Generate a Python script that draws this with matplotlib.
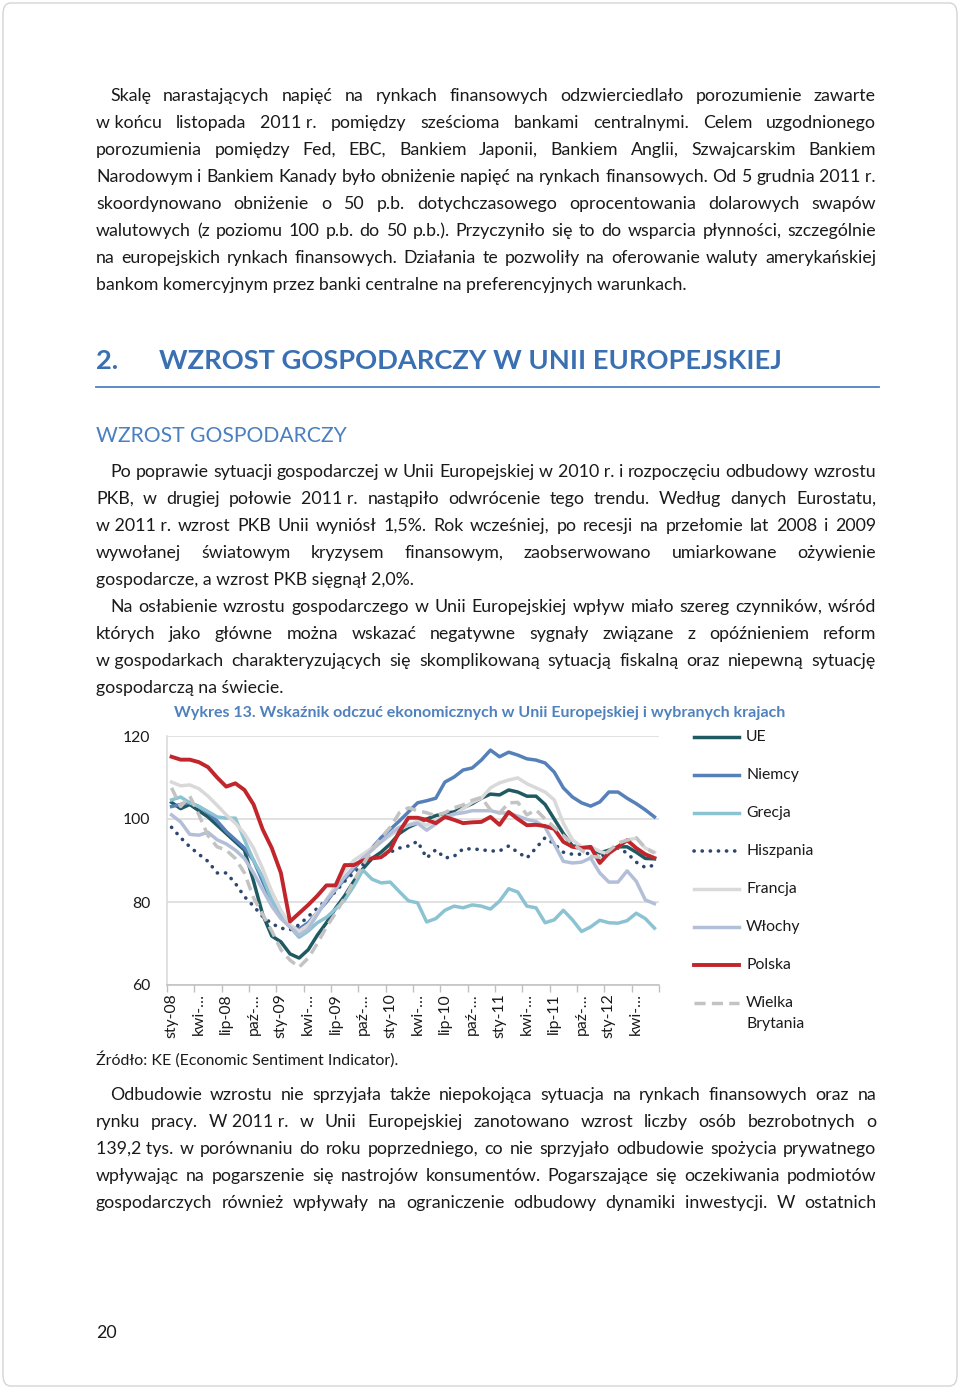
import matplotlib
matplotlib.use("Agg")
import matplotlib.pyplot as plt
from matplotlib.lines import Line2D
from matplotlib.patches import FancyBboxPatch
import numpy as np

# ---------------- data ----------------
tick_labels = ['sty-08', 'kwi-…', 'lip-08', 'paź-…', 'sty-09', 'kwi-…', 'lip-09', 'paź-…',
               'sty-10', 'kwi-…', 'lip-10', 'paź-…', 'sty-11', 'kwi-…', 'lip-11', 'paź-…',
               'sty-12', 'kwi-…']

ue = [104, 102.5, 103.5, 102, 100.5, 98.5, 96.5, 94.5, 92.5, 85, 77, 71.8, 70.4, 67.5, 66.5,
      68.5, 72, 75, 78.5, 81.5, 85, 88, 90.5, 92, 94, 96.5, 98, 99, 100, 100.8, 101.4, 101.7,
      102.7, 103.7, 105, 106, 105.8, 107, 106.5, 105.5, 105.5, 103.5, 100, 96.5, 93.5, 93.3,
      93, 91.8, 92.5, 93.3, 93.3, 92, 90.5, 90.4]
niemcy = [103, 103.5, 104, 103, 101.5, 99.5, 97, 95, 93, 90, 85, 80, 76.5, 74, 73.5, 75,
          77.5, 80, 83, 85.5, 88, 90.5, 93, 95.5, 97.5, 99.5, 101.7, 103.9, 104.4, 105, 108.9,
          110.1, 111.8, 112.3, 114.2, 116.6, 115, 116.1, 115.4, 114.5, 114.2, 113.5, 111.3,
          107.5, 105.3, 103.9, 103.1, 104.1, 106.5, 106.5, 105, 103.7, 102.2, 100.5]
grecja = [104.6, 105.3, 103.9, 103, 101.8, 100.5, 100.2, 100.2, 95, 90, 86, 80.5, 77, 74,
          71.5, 73, 75, 76.3, 78.3, 80.5, 83.8, 87.7, 85.5, 84.6, 84.8, 82.5, 80.3, 79.8, 75.2,
          76, 78, 79, 78.6, 79.3, 79, 78.3, 80.2, 83.2, 82.4, 79, 78.6, 75, 75.7, 78, 75.7,
          72.9, 74, 75.6, 75, 74.9, 75.5, 77.3, 76, 73.7]
hiszpania = [98, 95.5, 93.3, 91.5, 89.8, 87, 87, 84.5, 81.3, 79, 76.5, 74.8, 73.7, 73.3,
             74.5, 76.5, 78.5, 80.5, 82.5, 85, 87, 89, 90.3, 91, 92, 93, 93.5, 94.6, 90.6,
             92.6, 90.6, 91, 92.8, 92.8, 92.6, 92.3, 92.3, 93.5, 92, 90.6, 93, 95.5, 94, 92,
             91.5, 91.5, 91.8, 91, 91.8, 93, 91.8, 89.6, 88.3, 88.9]
francja = [108.9, 108, 108.2, 107.3, 105.5, 103.3, 101, 99, 96.5, 93, 88, 82.5, 78, 74.5,
           73, 74.5, 77.5, 80.5, 84, 87.5, 90, 91.5, 93, 94.5, 96, 97.5, 98.5, 99.5, 98.5,
           99.8, 100.5, 101, 102.5, 104, 105, 107.5, 108.7, 109.4, 109.9, 108.5, 107.5, 106.5,
           104.6, 99, 95, 93.3, 93.3, 92.2, 91.5, 93.3, 94.9, 95.4, 93, 92]
wlochy = [101, 99.3, 96.3, 96.1, 96.8, 95, 94, 92.5, 90.5, 87, 83, 79, 76, 74, 72, 73.5, 77,
          80.5, 83, 86, 88.5, 90.5, 92.5, 94.5, 96.5, 98, 98.5, 99, 97.3, 98.8, 100.5, 101.2,
          101.5, 102, 102, 102, 101.5, 101.4, 100.7, 99.9, 99.4, 98, 94, 89.8, 89.4, 89.6,
          90.6, 87, 84.8, 84.8, 87.5, 85, 80.5, 79.6]
polska = [115, 114.3, 114.3, 113.7, 112.5, 110, 107.8, 108.6, 107, 103.5, 97.5, 93, 87,
          75.3, 77.3, 79.3, 81.5, 84, 84, 88.9, 88.9, 90, 90.5, 90.8, 92.5, 97, 100.3, 100.3,
          99.8, 99, 100.5, 99.8, 99, 99.2, 99.3, 100.5, 98.6, 101.7, 100, 98.5, 98.6, 98.3,
          97.6, 94.5, 93.3, 93, 93.3, 89.4, 91.8, 93.3, 94.9, 93, 91.5, 90.6]
wielka_brytania = [107.5, 103, 105.5, 101, 96, 93.3, 92.5, 90.5, 87, 81, 77, 73, 68.5, 66,
                   64.3, 66.5, 70, 74, 77.3, 81, 85, 89, 92.5, 95.5, 98, 101.5, 102.7, 102,
                   101.5, 100.8, 101.5, 102.7, 103.4, 104.5, 105.2, 102.2, 101.4, 103.9, 104,
                   101, 102.2, 100, 98, 96, 94, 92.5, 91, 90.8, 92.3, 94.2, 94.9, 95.5, 93, 91.8]

series_names = ['UE', 'Niemcy', 'Grecja', 'Hiszpania', 'Francja', 'Włochy', 'Polska',
                'Wielka\nBrytania']

# ---------------- figure ----------------
W, H = 960, 1389
fig = plt.figure(figsize=(W / 100, H / 100), dpi=100)
FONT = ['Lato', 'DejaVu Sans']
plt.rcParams['font.family'] = FONT


def fx(x):
    return x / W


def fy(y):
    return 1 - y / H


# page border
fig.add_artist(FancyBboxPatch((fx(3), fy(1386)), fx(954), (1383) / H,
                              boxstyle="round,pad=0,rounding_size=0.008",
                              transform=fig.transFigure, fill=False,
                              edgecolor='#d4d4d4', linewidth=1.0))

renderer = fig.canvas.get_renderer()
BODY = 12.8
TXT = '#1a1a1a'


def line_text(x0, y, s, x1=None, size=BODY, **kw):
    """Draw a line; if x1 is given, justify tokens over [x0, x1]."""
    if x1 is None:
        fig.text(fx(x0), fy(y), s, fontsize=size, color=TXT, va='center', ha='left', **kw)
        return
    tokens = [t.replace('~', ' ') for t in s.split(' ')]
    arts, widths = [], []
    for t in tokens:
        a = fig.text(0, fy(y), t, fontsize=size, color=TXT, va='center', ha='left', **kw)
        arts.append(a)
        widths.append(a.get_window_extent(renderer).width)
    gap = (x1 - x0 - sum(widths)) / max(len(tokens) - 1, 1)
    x = x0
    for a, w in zip(arts, widths):
        a.set_x(fx(x))
        x += w + gap


R = 876
L = 96
IND = 110
paragraphs = [
    (IND, 96, "Skalę narastających napięć na rynkach finansowych odzwierciedlało porozumienie zawarte", True),
    (L, 123, "w~końcu listopada 2011~r. pomiędzy sześcioma bankami centralnymi. Celem uzgodnionego", True),
    (L, 150, "porozumienia pomiędzy Fed, EBC, Bankiem Japonii, Bankiem Anglii, Szwajcarskim Bankiem", True),
    (L, 177, "Narodowym i Bankiem Kanady było obniżenie napięć na rynkach finansowych. Od 5 grudnia 2011~r.", True),
    (L, 204, "skoordynowano obniżenie o 50 p.b. dotychczasowego oprocentowania dolarowych swapów", True),
    (L, 231, "walutowych (z poziomu 100 p.b. do 50 p.b.). Przyczyniło się to do wsparcia płynności, szczególnie", True),
    (L, 258, "na europejskich rynkach finansowych. Działania te pozwoliły na oferowanie waluty amerykańskiej", True),
    (L, 285, "bankom komercyjnym przez banki centralne na preferencyjnych warunkach.", False),
    (IND, 472, "Po poprawie sytuacji gospodarczej w Unii Europejskiej w 2010~r. i rozpoczęciu odbudowy wzrostu", True),
    (L, 499, "PKB, w drugiej połowie 2011~r. nastąpiło odwrócenie tego trendu. Według danych Eurostatu,", True),
    (L, 526, "w~2011~r. wzrost PKB Unii wyniósł 1,5%. Rok wcześniej, po recesji na przełomie lat 2008 i 2009", True),
    (L, 553, "wywołanej światowym kryzysem finansowym, zaobserwowano umiarkowane ożywienie", True),
    (L, 580, "gospodarcze, a wzrost PKB sięgnął 2,0%.", False),
    (IND, 607, "Na osłabienie wzrostu gospodarczego w Unii Europejskiej wpływ miało szereg czynników, wśród", True),
    (L, 634, "których jako główne można wskazać negatywne sygnały związane z opóźnieniem reform", True),
    (L, 661, "w~gospodarkach charakteryzujących się skomplikowaną sytuacją fiskalną oraz niepewną sytuację", True),
    (L, 688, "gospodarczą na świecie.", False),
    (IND, 1095, "Odbudowie wzrostu nie sprzyjała także niepokojąca sytuacja na rynkach finansowych oraz na", True),
    (L, 1122, "rynku pracy. W~2011~r. w Unii Europejskiej zanotowano wzrost liczby osób bezrobotnych o", True),
    (L, 1149, "139,2~tys. w porównaniu do roku poprzedniego, co nie sprzyjało odbudowie spożycia prywatnego", True),
    (L, 1176, "wpływając na pogarszenie się nastrojów konsumentów. Pogarszające się oczekiwania podmiotów", True),
    (L, 1203, "gospodarczych również wpływały na ograniczenie odbudowy dynamiki inwestycji. W ostatnich", True),
]
for x0, y, s, just in paragraphs:
    if just:
        line_text(x0, y, s, x1=R)
    else:
        line_text(x0, y, s.replace('~', ' '))

# headings
HEAD_C = '#3a70b2'
fig.text(fx(96), fy(361), "2.", fontsize=19.6, fontweight='bold', color=HEAD_C, va='center')
fig.text(fx(159), fy(361), "WZROST GOSPODARCZY W UNII EUROPEJSKIEJ", fontsize=19.6,
         fontweight='bold', color=HEAD_C, va='center')
fig.add_artist(Line2D([fx(96), fx(879)], [fy(387), fy(387)], transform=fig.transFigure,
                      color='#4f81bd', lw=1.3))
fig.text(fx(96), fy(436), "WZROST GOSPODARCZY", fontsize=15.2, color='#4a7fc0', va='center')

# chart title / source / page number
fig.text(fx(174), fy(713), "Wykres 13. Wskaźnik odczuć ekonomicznych w Unii Europejskiej i wybranych krajach",
         fontsize=11.5, fontweight='bold', color='#4f81bd', va='center')
fig.text(fx(96), fy(1059), "Źródło: KE (Economic Sentiment Indicator).", fontsize=11.5,
         color=TXT, va='center')
fig.text(fx(96), fy(1333), "20", fontsize=BODY, color=TXT, va='center')

# ---------------- chart ----------------
x0p, x1p, ytop, ybot = 167, 659, 736, 985
ax = fig.add_axes([fx(x0p), fy(ybot), (x1p - x0p) / W, (ybot - ytop) / H])
n = len(ue)
xs = np.arange(n)

styles = [
    dict(color='#1f5a62', lw=2.5),
    dict(color='#5580b9', lw=2.5),
    dict(color='#8cc3d2', lw=2.5),
    dict(color='#2d4770', lw=2.6, linestyle=(0, (0.05, 2.2)), dash_capstyle='round'),
    dict(color='#d9d9d9', lw=2.5),
    dict(color='#b3bfd8', lw=2.5),
    dict(color='#c0262c', lw=2.8),
    dict(color='#c3c3c3', lw=2.5, linestyle=(0, (3.2, 1.8))),
]
all_series = [ue, niemcy, grecja, hiszpania, francja, wlochy, polska, wielka_brytania]
for vals, st in zip(all_series, styles):
    ax.plot(xs, vals, solid_joinstyle='round', **st)

ax.set_xlim(-0.5, n - 0.5)
ax.set_ylim(60, 120)
ax.set_yticks([60, 80, 100, 120])
ax.yaxis.grid(True, color='#d9d9d9', lw=1.1)
ax.set_axisbelow(True)
ax.set_xticks(np.arange(-0.5, n, 3))
ax.set_xticklabels([])
ax.set_xticks(np.arange(0, n, 3), minor=True)
ax.set_xticklabels(tick_labels, minor=True, rotation=90, fontsize=11.3, color=TXT)
ax.tick_params(axis='x', which='major', length=5, width=1, color='#bfbfbf', direction='out')
ax.tick_params(axis='x', which='minor', length=0, pad=6)
ax.tick_params(axis='y', length=0, pad=12, labelsize=11.3, labelcolor=TXT)
for s in ['top', 'right']:
    ax.spines[s].set_visible(False)
ax.spines['left'].set_color('#d9d9d9')
ax.spines['left'].set_linewidth(1.1)
ax.spines['bottom'].set_color('#bfbfbf')
ax.spines['bottom'].set_linewidth(1.1)

# legend (manual)
leg_y = [737, 775, 813, 851, 889, 927, 965, 1003]
for name, st, y in zip(series_names, styles, leg_y):
    fig.add_artist(Line2D([fx(694), fx(739)], [fy(y), fy(y)], transform=fig.transFigure, **st))
    for k, part in enumerate(name.split('\n')):
        fig.text(fx(746), fy(y + 21 * k), part, fontsize=11.3, color=TXT, va='center')

fig.savefig("out.png", dpi=100)
